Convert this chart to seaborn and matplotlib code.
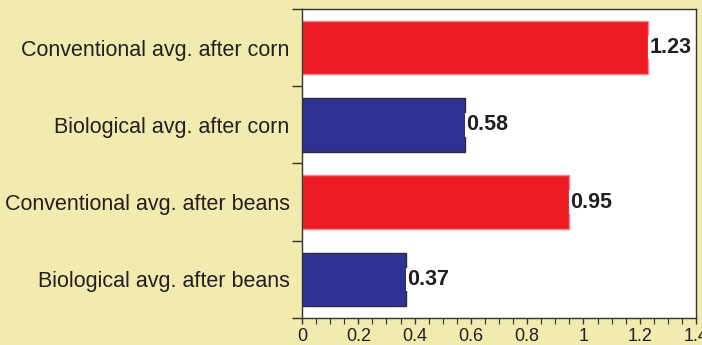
import matplotlib
matplotlib.use("Agg")
import matplotlib.pyplot as plt
import seaborn as sns
import pandas as pd
from matplotlib.ticker import MultipleLocator

categories = [
    "Conventional avg. after corn",
    "Biological avg. after corn",
    "Conventional avg. after beans",
    "Biological avg. after beans",
]
values = [1.23, 0.58, 0.95, 0.37]
colors = ["#ED1C24", "#2E3192", "#ED1C24", "#2E3192"]
edges = ["#F4868A", "#2A2A40", "#F4868A", "#2A2A40"]
x_ticks = [0, 0.2, 0.4, 0.6, 0.8, 1, 1.2, 1.4]
x_tick_labels = ["0", "0.2", "0.4", "0.6", "0.8", "1", "1.2", "1.4"]

sns.set_style("white")
plt.rcParams["font.family"] = ["Liberation Sans", "DejaVu Sans"]

df = pd.DataFrame({"category": categories, "value": values})

fig = plt.figure(figsize=(7.02, 3.45), dpi=100)
fig.patch.set_facecolor("#F2EBB0")
ax = fig.add_axes([0.4302, 0.0783, 0.5613, 0.8956])
ax.set_facecolor("white")

sns.barplot(data=df, y="category", x="value", hue="category",
            palette=colors, saturation=1, orient="h", width=0.69,
            legend=False, ax=ax)

for patch, ec in zip(ax.patches, edges):
    patch.set_edgecolor(ec)
    patch.set_linewidth(1.0)

for i, v in enumerate(values):
    ax.text(v + 0.004, i, f"{v:.2f}", va="center", ha="left",
            fontsize=15.5, fontweight="bold", color="#231F20",
            bbox=dict(facecolor="white", edgecolor="none", pad=1.0))

ax.set_xlim(0, 1.4)
ax.set_ylim(3.5, -0.5)
ax.set_xticks(x_ticks)
ax.set_xticklabels(x_tick_labels)
ax.xaxis.set_minor_locator(MultipleLocator(0.05))
ax.set_yticks([-0.5, 0.5, 1.5, 2.5, 3.5])
ax.set_yticklabels([])
ax.set_yticks([0, 1, 2, 3], minor=True)
ax.set_yticklabels(categories, minor=True)

ax.tick_params(axis="y", which="major", direction="out", length=7.2, width=1,
               color="#333333", left=True)
ax.tick_params(axis="y", which="minor", length=0, pad=9, labelsize=15.5,
               labelcolor="#231F20")
ax.tick_params(axis="x", which="major", direction="out", length=4.5, width=1,
               color="#333333", bottom=True, labelsize=13, labelcolor="#231F20",
               pad=2.5)
ax.tick_params(axis="x", which="minor", direction="out", length=4.5, width=0.8,
               color="#333333", bottom=True)

ax.set_xlabel("")
ax.set_ylabel("")
for side in ["left", "right", "top", "bottom"]:
    ax.spines[side].set_visible(True)
    ax.spines[side].set_color("#333333")
    ax.spines[side].set_linewidth(1.0)

fig.savefig("out.png", dpi=100, facecolor=fig.get_facecolor())
